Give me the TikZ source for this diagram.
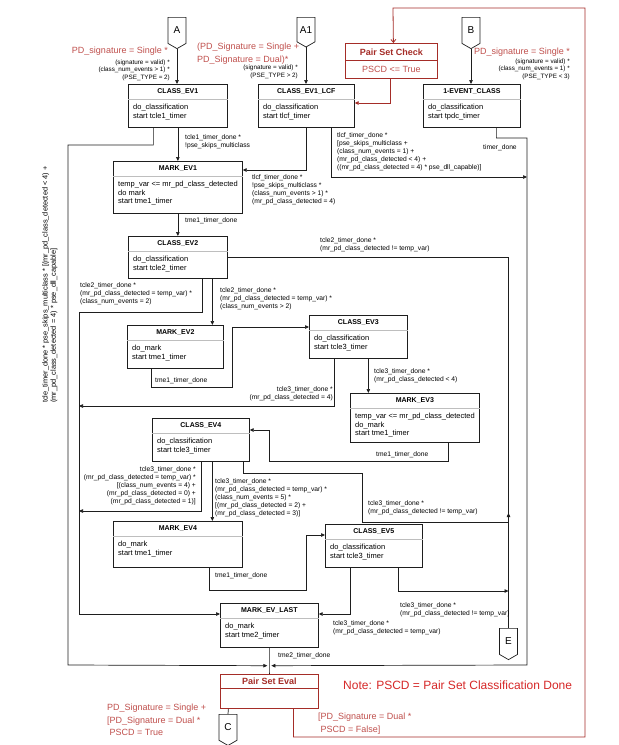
\documentclass[tikz,border=0pt]{standalone}
\usepackage{fontspec}
\setmainfont{Liberation Sans}
\usetikzlibrary{arrows.meta,shapes.symbols}
\definecolor{pdred}{RGB}{192,80,77}
\definecolor{notered}{RGB}{214,40,40}
\definecolor{pdbox}{RGB}{165,45,40}
\definecolor{sepgray}{RGB}{190,190,190}
\definecolor{lineblk}{RGB}{30,30,30}

% state box: name, x, y (top left), width, height, title, body
\newcommand{\statenode}[7]{%
  \node[stbox,minimum width=#4,minimum height=#5] (#1) at (#2,#3) {};
  \node[sttitle] (#1t) at ([yshift=-7.5]#1.north) {#6};
  \draw[stsep] ([yshift=-15]#1.north west) -- ([yshift=-15]#1.north east);
  \node[stbody] (#1b) at ([xshift=5,yshift=-20]#1.north west) {#7};
}

\begin{document}
\begin{tikzpicture}[x=1pt,y=-1pt,
  stbox/.style={rectangle,draw=lineblk,line width=0.7,fill=white,anchor=north west,inner sep=0},
  sttitle/.style={inner sep=0,font=\bfseries\fontsize{7}{8}\selectfont},
  stsep/.style={sepgray,line width=0.6},
  stbody/.style={anchor=north west,align=left,inner sep=0,font=\fontsize{7.5}{8.6}\selectfont},
  pbox/.style={rectangle,draw=pdbox,line width=0.8,fill=white,anchor=north west,inner sep=0},
  ptitle/.style={inner sep=0,text=pdbox,font=\bfseries\fontsize{9}{10}\selectfont},
  ptext/.style={inner sep=0,text=pdred,font=\fontsize{9}{10}\selectfont},
  offpage/.style={signal,signal to=south,signal pointer angle=120,draw=lineblk,line width=0.7,
    fill=white,minimum width=18,minimum height=28,inner sep=0,anchor=north,
    font=\fontsize{10}{12}\selectfont},
  lbl/.style={inner sep=0,align=left,anchor=north west,font=\fontsize{6.7}{8}\selectfont},
  lblr/.style={lbl,align=right,anchor=north east},
  rlbl/.style={inner sep=0,align=left,anchor=north west,text=pdred,font=\fontsize{9}{12.3}\selectfont},
  arr/.style={-{Triangle[length=4,width=3.5]},lineblk,line width=0.7},
  ln/.style={lineblk,line width=0.7},
  rarr/.style={-{Straight Barb[length=3,width=5]},pdbox,line width=0.8},
  rarrb/.style={-{Triangle[length=4,width=3.5]},pdbox,line width=0.8}
]
\useasboundingbox (0,0) rectangle (619,745);
\fill[white] (0,0) rectangle (619,745);

% off-page connectors
\node[offpage] (A) at (177,17) {A};
\node[offpage] (A1) at (306,17) {A1};
\node[offpage] (B) at (471,17) {B};
\node[offpage] (E) at (508.5,628) {E};
\node[offpage] (C) at (228,714) {C};

% states
\statenode{ev1}{128}{84}{99}{43}{CLASS\_EV1}{do\_classification\\start tcle1\_timer}
\statenode{lcf}{258}{84}{96}{43}{CLASS\_EV1\_LCF}{do\_classification\\start tlcf\_timer}
\statenode{onev}{423}{84}{97}{43}{1-EVENT\_CLASS}{do\_classification\\start tpdc\_timer}
\statenode{mev1}{113}{161}{129}{52}{MARK\_EV1}{temp\_var <= mr\_pd\_class\_detected\\do mark\\start tme1\_timer}
\statenode{ev2}{128}{236}{99}{42}{CLASS\_EV2}{do\_classification\\start tcle2\_timer}
\statenode{mev2}{127}{325}{96}{43}{MARK\_EV2}{do\_mark\\start tme1\_timer}
\statenode{ev3}{309}{315}{98}{43}{CLASS\_EV3}{do\_classification\\start tcle3\_timer}
\statenode{mev3}{350}{393}{129}{49}{MARK\_EV3}{temp\_var <= mr\_pd\_class\_detected\\do\_mark\\start tme1\_timer}
\statenode{ev4}{152}{418}{97}{43}{CLASS\_EV4}{do\_classification\\start tcle3\_timer}
\statenode{mev4}{113}{521}{129}{46}{MARK\_EV4}{do\_mark\\start tme1\_timer}
\statenode{ev5}{325}{524}{97}{43}{CLASS\_EV5}{do\_classification\\start tcle3\_timer}
\statenode{mevl}{220}{603}{98}{44}{MARK\_EV\_LAST}{do\_mark\\start tme2\_timer}

% pair set boxes
\node[pbox,minimum width=92,minimum height=35] (psc) at (345,43) {};
\node[ptitle] (psct) at ([yshift=-9]psc.north) {Pair Set Check};
\draw[pdbox,line width=0.6] ([yshift=-17.5]psc.north west) -- ([yshift=-17.5]psc.north east);
\node[ptext] (pscb) at ([yshift=-26.5]psc.north) {PSCD <= True};
\node[pbox,minimum width=98,minimum height=34] (pse) at (220,674) {};
\node[ptitle] (pset) at ([yshift=-7.5]pse.north) {Pair Set Eval};
\draw[pdbox,line width=0.6] ([yshift=-14]pse.north west) -- ([yshift=-14]pse.north east);

\coordinate (mrg) at ([yshift=-18]mevl.south);
\coordinate (erail) at (E.north);

% entry conditions
\node[rlbl,anchor=north east] (ca) at (168,47) {PD\_signature = Single *};
\node[lblr,font=\fontsize{6.3}{7.6}\selectfont] (cab) at (170,59.5) {(signature = valid) *\\(class\_num\_events > 1) *\\(PSE\_TYPE = 2)};
\node[rlbl] (ca1) at (197,43) {(PD\_Signature = Single +\\PD\_Signature = Dual)*};
\node[lblr,font=\fontsize{6.3}{8.4}\selectfont] (ca1b) at (298,64.5) {(signature = valid) *\\(PSE\_TYPE > 2)};
\node[rlbl] (cb) at (474,48) {PD\_signature = Single *};
\node[lblr,font=\fontsize{6.3}{7.6}\selectfont] (cbb) at (570,58.5) {(signature = valid) *\\(class\_num\_events = 1) *\\(PSE\_TYPE < 3)};

\draw[arr] (A.south) -- (A.south |- ev1.north);
\draw[arr] (A1.south) -- (A1.south |- lcf.north);
\draw[arr] (B.south) -- (B.south |- onev.north);

% CLASS_EV1
\draw[arr] (ev1.south) -- (mev1.north);
\node[lbl] (t1) at (185,134) {tcle1\_timer\_done *\\!pse\_skips\_multiclass};
\draw[arr] ([xshift=-24.5]ev1.south) |- (68,145) -- (68,665) -- ([xshift=-2]mrg);
\node[lbl,rotate=90,font=\fontsize{7.4}{8.2}\selectfont] (t2) at (42,403) {tcle\_timer\_done * pse\_skips\_multiclass * [(mr\_pd\_class\_detected < 4) +\\(mr\_pd\_class\_detected = 4) * pse\_dll\_capable]};

% CLASS_EV1_LCF
\draw[arr] (lcf.south) |- ([yshift=-9]mev1.north east);
\node[lbl] (t3) at (252,174) {tlcf\_timer\_done *\\!pse\_skips\_multiclass *\\(class\_num\_events > 1) *\\(mr\_pd\_class\_detected = 4)};
\draw[arr] ([xshift=25]lcf.south) |- (527,177);
\node[lbl] (t4) at (337,132) {tlcf\_timer\_done *\\{}[pse\_skips\_multiclass +\\(class\_num\_events = 1) +\\(mr\_pd\_class\_detected < 4) +\\((mr\_pd\_class\_detected = 4) * pse\_dll\_capable)]};

% 1-EVENT_CLASS
\draw[arr] ([xshift=24.5]onev.south) |- (527,138) -- (527,665) -- ([xshift=2]mrg);
\node[lbl] (t5) at (483,144) {timer\_done};

% MARK_EV1
\draw[arr] (mev1.south) -- (ev2.north);
\node[lbl] (t6) at (185,217) {tme1\_timer\_done};

% CLASS_EV2
\draw[ln] (ev2.east) -| (E.north);
\node[lbl] (t7) at (320,237) {tcle2\_timer\_done *\\(mr\_pd\_class\_detected != temp\_var)};
\draw[arr] ([xshift=24.5]ev2.south) |- (79,312) -- (79,614) -- ([yshift=-11]mevl.north west);
\node[lbl] (t8) at (80,282) {tcle2\_timer\_done *\\(mr\_pd\_class\_detected = temp\_var) *\\(class\_num\_events = 2)};
\draw[arr] ([xshift=34.5]ev2.south) -- ([xshift=34.5]ev2.south |- mev2.north);
\node[lbl] (t9) at (220,287) {tcle2\_timer\_done *\\(mr\_pd\_class\_detected = temp\_var) *\\(class\_num\_events > 2)};

% MARK_EV2
\draw[arr] ([xshift=-24]mev2.south) |- (232,387) |- ([yshift=-12]ev3.north west);
\node[lbl] (t10) at (155,377) {tme1\_timer\_done};

% CLASS_EV3
\draw[arr] ([xshift=10]ev3.south) -- ([xshift=10]ev3.south |- mev3.north);
\node[lbl] (t11) at (374,368) {tcle3\_timer\_done *\\(mr\_pd\_class\_detected < 4)};
\draw[arr] ([xshift=-24]ev3.south) |- (79,406);
\node[lblr] (t12) at (333,386) {tcle3\_timer\_done *\\(mr\_pd\_class\_detected = 4)};

% MARK_EV3
\draw[arr] ([xshift=33.5]mev3.south) |- (269,461) |- ([yshift=-12]ev4.north east);
\node[lbl] (t13) at (376,451) {tme1\_timer\_done};

% CLASS_EV4
\draw[arr] (ev4.south) |- (79,511);
\node[lblr] (t14) at (196,466) {tcle3\_timer\_done *\\(mr\_pd\_class\_detected = temp\_var) *\\{}[(class\_num\_events = 4) +\\(mr\_pd\_class\_detected = 0) +\\(mr\_pd\_class\_detected = 1)]};
\draw[arr] ([xshift=11.5]ev4.south) -- ([xshift=11.5]ev4.south |- mev4.north);
\node[lbl] (t15) at (215,478) {tcle3\_timer\_done *\\(mr\_pd\_class\_detected = temp\_var) *\\(class\_num\_events = 5) *\\{}[(mr\_pd\_class\_detected = 2) +\\(mr\_pd\_class\_detected = 3)]};
\draw[arr] ([xshift=42.5]ev4.south) |- (362,473) |- (erail |- 0,522) -- (erail |- 0,513);
\node[lbl] (t16) at (368,500) {tcle3\_timer\_done *\\(mr\_pd\_class\_detected != temp\_var)};

% MARK_EV4
\draw[arr] ([xshift=31.5]mev4.south) |- (306,590) |- ([yshift=-11]ev5.north west);
\node[lbl] (t17) at (215,572) {tme1\_timer\_done};

% CLASS_EV5
\draw[arr] ([xshift=24.5]ev5.south) |- (erail |- 0,591);
\node[lbl] (t18) at (400,602) {tcle3\_timer\_done *\\(mr\_pd\_class\_detected != temp\_var)};
\draw[arr] ([xshift=-23.5]ev5.south) |- ([yshift=-11]mevl.north east);
\node[lbl] (t19) at (333,620) {tcle3\_timer\_done *\\(mr\_pd\_class\_detected = temp\_var)};

% MARK_EV_LAST
\draw[ln] (mevl.south) -- (pse.north);
\node[lbl] (t20) at (278,652) {tme2\_timer\_done};

% Pair Set Eval / Pair Set Check
\draw[ln] ([xshift=-41]pse.south) -- (C.north);
\node[rlbl] (cc) at (107,704) {PD\_Signature = Single +\\{}[PD\_Signature = Dual *\\\ PSCD = True};
\draw[rarr] ([xshift=24]pse.south) |- (585,737) |- (393,8) -- ([xshift=2]psc.north);
\node[rlbl] (cpf) at (318,713) {[PD\_Signature = Dual *\\\ PSCD = False]};
\draw[rarrb] ([xshift=-1]psc.south) |- (lcf.east |- 0,103);

\node[inner sep=0,anchor=west,text=notered,font=\fontsize{12}{14}\selectfont] (note) at (343,685) {Note: PSCD = Pair Set Classification Done};
\end{tikzpicture}
\end{document}
